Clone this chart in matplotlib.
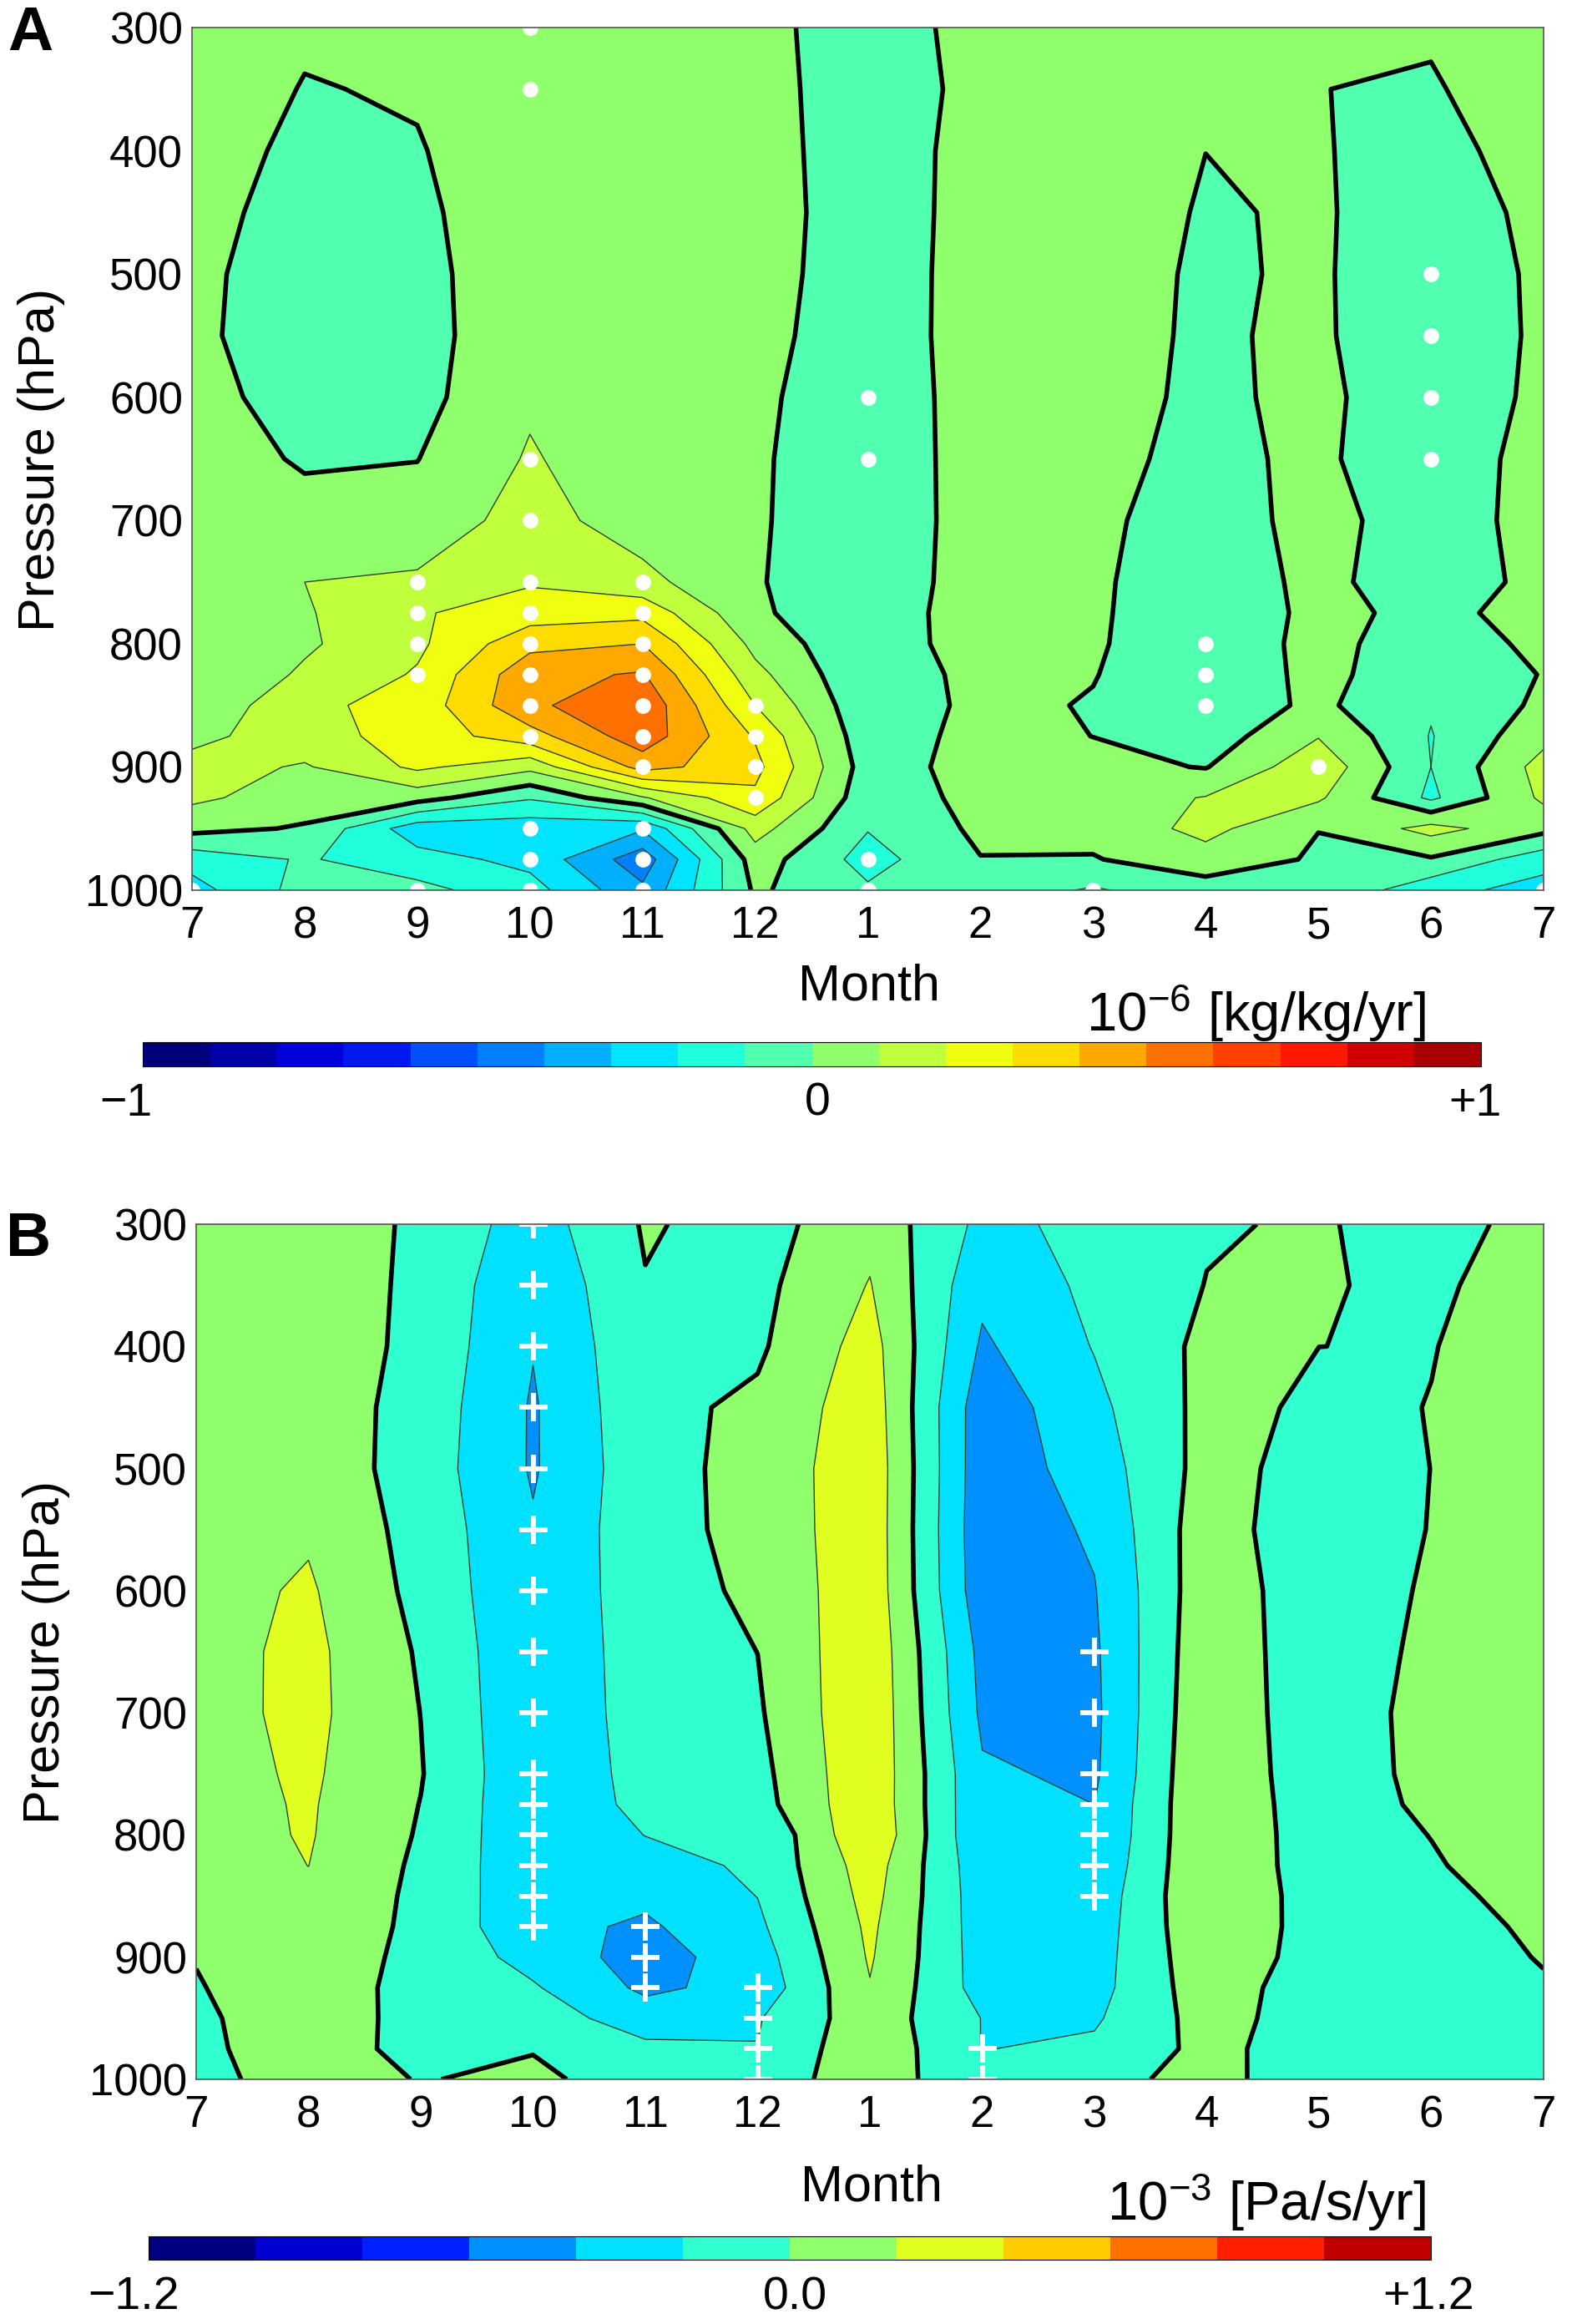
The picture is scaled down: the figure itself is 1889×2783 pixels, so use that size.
import numpy as np
import matplotlib
matplotlib.use('Agg')
import matplotlib.pyplot as plt

plt.rcParams['font.family'] = ['Liberation Sans', 'DejaVu Sans']
plt.rcParams['mathtext.default'] = 'regular'

W, H = 1889, 2783

month_labels = ['7', '8', '9', '10', '11', '12', '1', '2', '3', '4', '5', '6', '7']
pressure = [300, 350, 400, 450, 500, 550, 600, 650, 700, 750, 775, 800, 825, 850, 875, 900, 925, 950, 975, 1000]
pressure_ticks = [300, 400, 500, 600, 700, 800, 900, 1000]

# humidity trend, 1e-6 kg/kg/yr, one row per pressure level
humidity = [
    [.05, .012, .03, .05, .04, .034, -.06, .04, .05, .04, .03, .01, .05],
    [.05, -.004, .007, .05, .04, .04, -.06, .03, .05, .03, .001, -.008, .05],
    [.04, -.02, -.005, .05, .04, .045, -.06, .04, .05, .0005, .005, -.03, .04],
    [.03, -.035, -.012, .04, .04, .05, -.06, .042, .06, -.01, .012, -.06, .03],
    [.02, -.045, -.018, .04, .04, .04, -.055, .042, .036, -.012, .012, -.07, .02],
    [.02, -.055, -.02, .04, .04, .03, -.055, .043, .026, -.0105, .015, -.08, .02],
    [.025, -.03, -.03, .085, .03, .02, -.065, .045, .037, -.02, .025, -.075, .025],
    [.05, -.011, -.002, .11, .03, .013, -.065, .043, .0245, -.0245, .02, -.08, .05],
    [.05, .035, .04, .14, .05, .012, -.07, .045, .028, -.065, .045, -.07, .05],
    [.04, .1, .115, .19, .13, .008, -.07, .05, .02, -.08, .035, -.078, .04],
    [.04, .09, .19, .25, .27, .015, -.07, .06, .018, -.085, .03, -.03, .04],
    [.03, .085, .18, .37, .40, .07, -.09, .073, .015, -.09, .04, -.07, .03],
    [.005, .115, .21, .47, .51, .13, -.09, .042, .005, -.09, .035, -.08, .005],
    [.02, .175, .24, .48, .58, .2, -.08, .03, -.008, -.06, .02, -.09, .02],
    [.07, .16, .24, .36, .56, .29, -.07, .04, -.001, -.055, .095, -.105, .07],
    [.14, .09, .22, .13, .44, .33, -.05, .04, .03, -.005, .17, -.1, .14],
    [.12, .05, .04, -.09, .09, .28, -.07, .035, .05, .105, .115, -.12, .12],
    [.03, -.01, -.26, -.26, -.29, .14, -.095, .02, .03, .13, .002, .135, .03],
    [-.16, -.09, -.16, -.23, -.46, .05, -.14, -.003, -.006, .06, -.013, -.01, -.16],
    [-.24, -.06, -.07, -.16, -.38, .015, -.085, -.051, -.11, -.0475, -.015, -.165, -.24],
]

# omega trend, 1e-3 Pa/s/yr
omega = [
    [.083, .1, -.03, -.3, .02, -.08, .14, -.25, -.15, -.016, .02, -.09, .083],
    [.08, .12, -.044, -.369, -.01, -.052, .21, -.35, -.155, .005, .01, -.027, .08],
    [.06, .13, -.056, -.391, -.044, -.03, .281, -.43, -.19, .0475, .0003, -.004, .06],
    [.05, .115, -.076, -.42, -.053, .037, .318, -.525, -.25, .06, -.032, .003, .05],
    [.05, .13, -.092, -.42, -.07, .062, .338, -.53, -.306, .073, -.079, .001, .05],
    [.05, .175, -.075, -.38, -.075, .061, .334, -.54, -.371, .118, -.163, .0086, .05],
    [.125, .225, -.06, -.37, -.087, .037, .339, -.53, -.41, .128, -.128, .026, .125],
    [.122, .252, -.022, -.37, -.10, .001, .36, -.46, -.43, .15, -.138, .051, .122],
    [.122, .253, -.002, -.37, -.108, -.0235, .369, -.436, -.44, .17, -.145, .082, .122],
    [.12, .231, .01, -.36, -.131, -.06, .362, -.377, -.43, .19, -.143, .071, .12],
    [.12, .22, -.0045, -.36, -.144, -.08, .36, -.375, -.40, .19, -.127, .044, .12],
    [.12, .215, -.018, -.355, -.197, -.19, .38, -.38, -.39, .19, -.116, .0045, .12],
    [.12, .201, -.036, -.345, -.27, -.17, .30, -.33, -.362, .19, -.112, -.02, .12],
    [.12, .17, -.045, -.337, -.36, -.197, .27, -.31, -.326, .19, -.095, -.087, .12],
    [.07, .13, -.043, -.34, -.43, -.24, .24, -.30, -.305, .17, -.084, -.149, .07],
    [.005, .10, -.047, -.269, -.487, -.294, .22, -.29, -.285, .14, -.082, -.04, .005],
    [-.008, .08, -.05, -.18, -.44, -.33, .19, -.28, -.27, .115, -.115, -.05, -.008],
    [-.03, .10, -.061, -.10, -.30, -.215, .12, -.205, -.225, .08, -.098, -.05, -.03],
    [-.04, .10, -.064, -.01, -.155, -.195, .147, -.205, -.165, .055, -.098, -.05, -.04],
    [-.06, .09, -.009, .04, -.093, -.10, .10, -.133, -.08, .08, -.142, -.05, -.06],
]

# significant points: month position -> pressure levels
humidity_dots = {
    0: [1000], 2: [750, 775, 800, 825, 1000],
    3: [300, 350, 650, 700, 750, 775, 800, 825, 850, 875, 950, 975, 1000],
    4: [750, 775, 800, 825, 850, 875, 900, 950, 975, 1000],
    5: [850, 875, 900, 925], 6: [600, 650, 975, 1000], 8: [1000],
    9: [800, 825, 850], 10: [900], 11: [500, 550, 600, 650], 12: [1000],
}
omega_plus = {
    3: [300, 350, 400, 450, 500, 550, 600, 650, 700, 750, 775, 800, 825, 850, 875],
    4: [875, 900, 925], 5: [925, 950, 975, 1000], 7: [975, 1000],
    8: [650, 700, 750, 775, 800, 825, 850],
}

humidity_colors = ['#00007d', '#0000a8', '#0000d8', '#0018f0', '#0050ff', '#0080ff', '#00b0ff',
                   '#00e4ff', '#20ffdc', '#50ffb0', '#90ff6c', '#c0ff3c', '#f0ff10', '#ffdc00',
                   '#ffa800', '#ff7000', '#ff4000', '#ff1800', '#d00000', '#a80000']
omega_colors = ['#000080', '#0000d0', '#0020ff', '#0090ff', '#00e0ff', '#30ffd0',
                '#90ff6c', '#e0ff20', '#ffcc00', '#ff7000', '#ff2000', '#c00000']


def px_axes(fig, x0, y0, x1, y1):
    return fig.add_axes([x0 / W, 1 - y1 / H, (x1 - x0) / W, (y1 - y0) / H])


def px_text(fig, x, y, s, **kw):
    kw.setdefault('ha', 'center')
    kw.setdefault('va', 'center')
    kw.setdefault('fontsize', 44)
    fig.text(x / W, 1 - y / H, s, **kw)


def draw_panel(fig, box, values, colors, vmax, points, marker):
    ax = px_axes(fig, *box)
    x = np.arange(len(month_labels))
    levels = np.linspace(-vmax, vmax, len(colors) + 1)
    z = np.array(values)
    cf = ax.contourf(x, pressure, z, levels=levels, colors=colors)
    thin = [v for v in levels if abs(v) > 1e-6]
    ax.contour(x, pressure, z, levels=thin, colors='#2c4030', linewidths=1.0, linestyles='solid')
    ax.contour(x, pressure, z, levels=[0], colors='black', linewidths=4, linestyles='solid')
    for pos, plevels in points.items():
        if marker == 'o':
            ax.plot([pos] * len(plevels), plevels, 'o', color='white', ms=13.5, mew=0)
        else:
            ax.plot([pos] * len(plevels), plevels, '+', color='white', ms=24, mew=4.2)
    ax.set_xlim(0, 12)
    ax.set_ylim(1000, 300)
    ax.set_xticks(x)
    ax.set_xticklabels(month_labels)
    ax.set_yticks(pressure_ticks)
    ax.tick_params(axis='both', length=0, labelsize=38)
    ax.tick_params(axis='x', pad=13)
    ax.tick_params(axis='y', pad=8)
    for spine in ax.spines.values():
        spine.set_color('#555555')
        spine.set_linewidth(1.2)
    return cf


fig = plt.figure(figsize=(W / 100, H / 100), dpi=100)

cf_a = draw_panel(fig, (230, 33, 1849, 1066), humidity, humidity_colors, 1.0, humidity_dots, 'o')
cf_b = draw_panel(fig, (235, 1466, 1849, 2490), omega, omega_colors, 1.2, omega_plus, '+')

cax_a = px_axes(fig, 171, 1248, 1774, 1277)
fig.colorbar(cf_a, cax=cax_a, orientation='horizontal', ticks=[])
cax_a.minorticks_off()
cax_b = px_axes(fig, 178, 2678, 1714, 2706)
fig.colorbar(cf_b, cax=cax_b, orientation='horizontal', ticks=[])
cax_b.minorticks_off()

px_text(fig, 36, 41, 'A', fontsize=54, fontweight='bold')
px_text(fig, 34, 1484, 'B', fontsize=54, fontweight='bold')
px_text(fig, 1041, 1182, 'Month')
px_text(fig, 1044, 2620, 'Month')
px_text(fig, 50, 550, 'Pressure (hPa)', rotation=90)
px_text(fig, 56, 1978, 'Pressure (hPa)', rotation=90)
px_text(fig, 1708, 1214, '10$^{-6}$ [kg/kg/yr]', ha='right', fontsize=47)
px_text(fig, 1708, 2638, '10$^{-3}$ [Pa/s/yr]', ha='right', fontsize=47)
px_text(fig, 151, 1322, '\u22121', fontsize=40)
px_text(fig, 979, 1322, '0', fontsize=40)
px_text(fig, 1767, 1322, '+1', fontsize=40)
px_text(fig, 160, 2751, '\u22121.2', fontsize=40)
px_text(fig, 952, 2751, '0.0', fontsize=40)
px_text(fig, 1711, 2751, '+1.2', fontsize=40)

fig.savefig('out.png', dpi=100)
